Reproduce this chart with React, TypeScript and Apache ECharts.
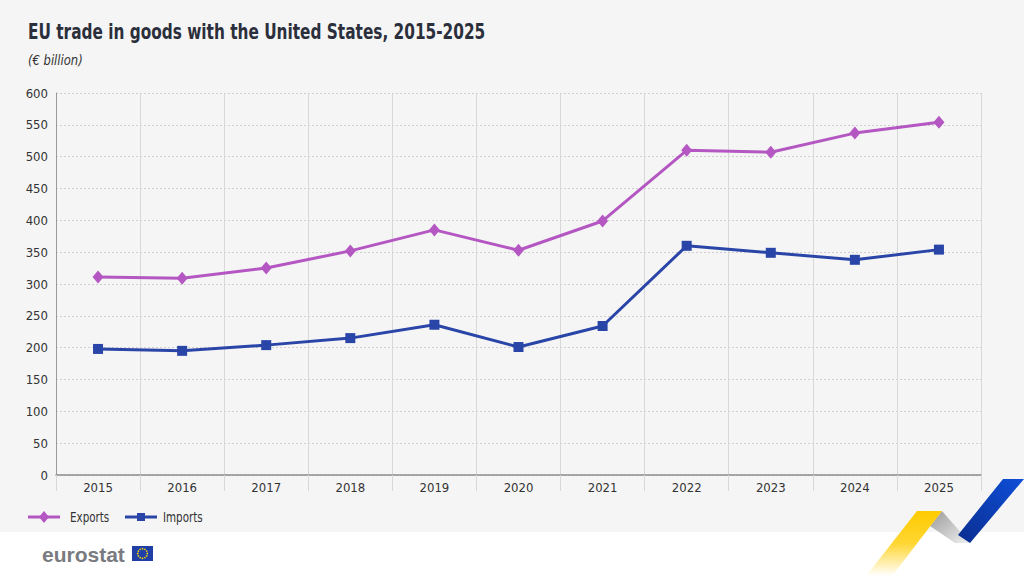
import React, { useEffect, useRef } from "react";
import * as echarts from "echarts";

const years = ["2015", "2016", "2017", "2018", "2019", "2020", "2021", "2022", "2023", "2024", "2025"];
const exportsValues = [311, 309, 325, 352, 385, 353, 399, 510, 507, 537, 554];
const importsValues = [198, 195, 204, 215, 236, 201, 234, 360, 349, 338, 354];
const yTicks = { min: 0, max: 600, interval: 50 };

const FONT = "'DejaVu Sans Condensed', 'Roboto', sans-serif";
const EXP_COLOR = "#B457C2";
const IMP_COLOR = "#2A45A8";

export default function App() {
  const ref = useRef<HTMLDivElement>(null);
  useEffect(() => {
    if (!ref.current) return;
    const chart = echarts.init(ref.current, undefined, { renderer: "svg" });

    const stars: any[] = [];
    for (let i = 0; i < 12; i++) {
      const a = (i / 12) * Math.PI * 2;
      stars.push({
        type: "circle",
        shape: { cx: 142.5 + Math.cos(a) * 4.8, cy: 553.5 + Math.sin(a) * 4.8, r: 0.8 },
        style: { fill: "#FFDD00" },
        z: 12,
      });
    }

    chart.setOption({
      animation: false,
      backgroundColor: "#ffffff",
      graphic: [
        { type: "rect", shape: { x: 0, y: 0, width: 1024, height: 532 }, style: { fill: "#F5F5F5" }, z: -10, silent: true },
        {
          type: "text", x: 28, y: 21, scaleX: 0.775,
          style: { text: "EU trade in goods with the United States, 2015-2025", font: `bold 22px ${FONT}`, fill: "#2B2F3C", verticalAlign: "top" },
        },
        {
          type: "text", x: 28, y: 53, scaleX: 0.92,
          style: { text: "(€ billion)", font: `italic 14px ${FONT}`, fill: "#333", verticalAlign: "top" },
        },
        // legend
        { type: "line", shape: { x1: 28, y1: 517, x2: 60, y2: 517 }, style: { stroke: EXP_COLOR, lineWidth: 3 } },
        { type: "polygon", shape: { points: [[44, 511], [49, 517], [44, 523], [39, 517]] }, style: { fill: EXP_COLOR } },
        { type: "text", x: 70, y: 517, scaleX: 0.82, style: { text: "Exports", font: `14px ${FONT}`, fill: "#333", verticalAlign: "middle" } },
        { type: "line", shape: { x1: 125, y1: 517, x2: 157, y2: 517 }, style: { stroke: IMP_COLOR, lineWidth: 3 } },
        { type: "rect", shape: { x: 137, y: 513, width: 8, height: 8 }, style: { fill: IMP_COLOR } },
        { type: "text", x: 163, y: 517, scaleX: 0.82, style: { text: "Imports", font: `14px ${FONT}`, fill: "#333", verticalAlign: "middle" } },
        // eurostat logo
        { type: "text", x: 42, y: 554, style: { text: "eurostat", font: "bold 21px 'Liberation Sans', Arial, sans-serif", fill: "#7A7B80", verticalAlign: "middle" } },
        { type: "rect", shape: { x: 132, y: 546, width: 21, height: 15 }, style: { fill: "#1F3FA6" }, z: 11 },
        ...stars,
        // decoration ribbon
        {
          type: "polygon",
          shape: { points: [[866, 576], [917, 511], [942, 511], [892, 576]] },
          style: {
            fill: new echarts.graphic.LinearGradient(0, 1, 0, 0, [
              { offset: 0, color: "rgba(255,204,0,0)" },
              { offset: 0.5, color: "rgba(255,204,0,0.8)" },
              { offset: 1, color: "#FFCC00" },
            ]),
          },
          z: 5,
        },
        {
          type: "polygon",
          shape: { points: [[930, 526], [942, 511], [970, 543], [955, 543]] },
          style: {
            fill: new echarts.graphic.LinearGradient(0, 0, 1, 1, [
              { offset: 0, color: "#9A9A9A" },
              { offset: 1, color: "#F0F0F0" },
            ]),
          },
          z: 4,
        },
        {
          type: "polygon",
          shape: { points: [[958, 535], [1003, 479], [1024, 479], [970, 543]] },
          style: {
            fill: new echarts.graphic.LinearGradient(0, 1, 1, 0, [
              { offset: 0, color: "#0A2D8F" },
              { offset: 1, color: "#0E4FD8" },
            ]),
          },
          z: 5,
        },
      ],
      grid: { left: 56, right: 43, top: 93, bottom: 101, containLabel: false },
      xAxis: {
        type: "category",
        data: years,
        boundaryGap: true,
        axisLine: { show: true, lineStyle: { color: "#8C8C8C", width: 1.5 } },
        axisTick: { show: true, length: 16, lineStyle: { color: "#D8D8D8" } },
        axisLabel: { color: "#333", fontFamily: FONT, fontSize: 13, margin: 6 },
        splitLine: { show: true, lineStyle: { color: "#D8D8D8", width: 1 } },
      },
      yAxis: {
        type: "value",
        min: yTicks.min,
        max: yTicks.max,
        interval: yTicks.interval,
        axisLine: { show: true, lineStyle: { color: "#9A9A9A", width: 1 } },
        axisTick: { show: false },
        axisLabel: { color: "#333", fontFamily: FONT, fontSize: 13, margin: 8 },
        splitLine: { show: true, lineStyle: { color: "#CFCFCF", type: [2, 2], width: 1 } },
      },
      series: [
        {
          name: "Exports",
          type: "line",
          data: exportsValues,
          symbol: "diamond",
          symbolSize: [11, 13],
          lineStyle: { color: EXP_COLOR, width: 3 },
          itemStyle: { color: EXP_COLOR },
          z: 3,
        },
        {
          name: "Imports",
          type: "line",
          data: importsValues,
          symbol: "rect",
          symbolSize: 10,
          lineStyle: { color: IMP_COLOR, width: 3 },
          itemStyle: { color: IMP_COLOR },
          z: 3,
        },
      ],
    });
    return () => chart.dispose();
  }, []);
  return <div ref={ref} style={{ position: "fixed", left: 0, top: 0, width: 1024, height: 576 }} />;
}
